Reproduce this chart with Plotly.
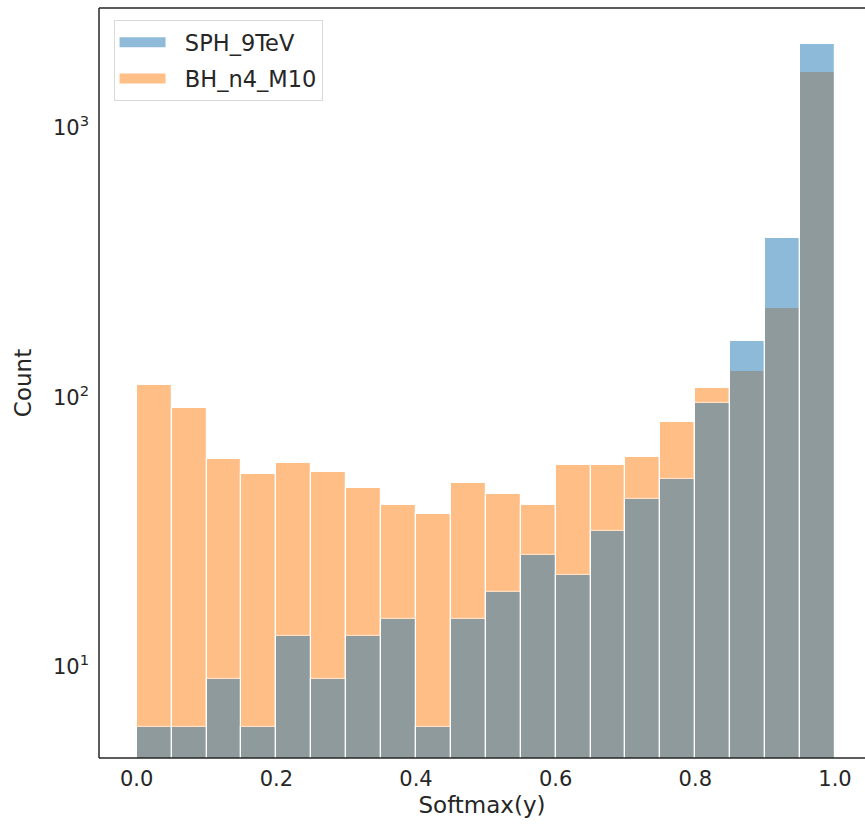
import numpy as np
import plotly.graph_objects as go

# Histogram of softmax scores: 20 equal-width bins on [0, 1]
bin_edges = np.linspace(0.0, 1.0, 21)
bin_width = 0.05
bin_centers = bin_edges[:-1] + bin_width / 2

sph_9tev_counts = [6, 6, 9, 6, 13, 9, 13, 15, 6, 15, 19, 26, 22, 32, 42, 50, 95, 162, 390, 2052]
bh_n4_m10_counts = [111, 91, 59, 52, 57, 53, 46, 40, 37, 48, 44, 40, 56, 56, 60, 81, 108, 125, 215, 1611]

series_names = ["SPH_9TeV", "BH_n4_M10"]
series_colors = ["#1f77b4", "#ff7f0e"]

x_ticks = [0.0, 0.2, 0.4, 0.6, 0.8, 1.0]
y_ticks = [10, 100, 1000]
y_tick_text = ["10<sup>1</sup>", "10<sup>2</sup>", "10<sup>3</sup>"]

TEXT = "#262626"
FONT = "DejaVu Sans"
NBSP = "\u00a0"

fig = go.Figure()

# Orange drawn first, blue on top (overlap renders grey)
for name, color, counts in [
    (series_names[1], series_colors[1], bh_n4_m10_counts),
    (series_names[0], series_colors[0], sph_9tev_counts),
]:
    fig.add_trace(go.Bar(
        x=bin_centers,
        y=counts,
        width=bin_width,
        name=name,
        marker=dict(color=color, line=dict(color="white", width=1.2)),
        opacity=0.5,
        showlegend=False,
    ))

# Wide patch-style legend entries
for name, color in zip(series_names, series_colors):
    fig.add_trace(go.Scatter(
        x=[None], y=[None],
        mode="lines",
        name=NBSP * 2 + name,
        legendgroup=name,
        line=dict(color=color, width=15),
        opacity=0.5,
        showlegend=True,
    ))

# Left, bottom and top spines (the right spine falls outside the canvas)
spine = dict(type="line", xref="paper", yref="paper",
             line=dict(color=TEXT, width=1.5), layer="above")
fig.add_shape(x0=0, x1=0, y0=0, y1=1, **spine)
fig.add_shape(x0=0, x1=1, y0=0, y1=0, **spine)
fig.add_shape(x0=0, x1=1, y0=1, y1=1, **spine)

fig.update_layout(
    width=865,
    height=825,
    margin=dict(l=99, r=0, t=8, b=67),
    paper_bgcolor="white",
    plot_bgcolor="white",
    barmode="overlay",
    bargap=0,
    font=dict(family=FONT, color=TEXT, size=21),
    showlegend=True,
    legend=dict(
        x=0.019, y=0.984, xanchor="left", yanchor="top",
        bgcolor="rgba(255,255,255,0.8)",
        bordercolor="#d9d9d9", borderwidth=1,
        font=dict(family=FONT, size=22.5, color=TEXT),
        itemwidth=46,
        tracegroupgap=4,
    ),
    xaxis=dict(
        range=[-0.054, 1.043],
        tickvals=x_ticks,
        tickformat=".1f",
        ticks="",
        showgrid=False,
        zeroline=False,
        showline=False,
        ticklabelstandoff=6,
        tickfont=dict(size=21, color=TEXT),
        title=dict(text="Softmax(y)", font=dict(size=23, color=TEXT), standoff=6),
    ),
    yaxis=dict(
        type="log",
        range=[0.662, 3.445],
        tickvals=y_ticks,
        ticktext=y_tick_text,
        ticks="",
        showgrid=False,
        zeroline=False,
        showline=False,
        ticklabelstandoff=9,
        tickfont=dict(size=21, color=TEXT),
        title=dict(text="Count", font=dict(size=23, color=TEXT), standoff=14),
    ),
)

fig.write_html("out.html")
